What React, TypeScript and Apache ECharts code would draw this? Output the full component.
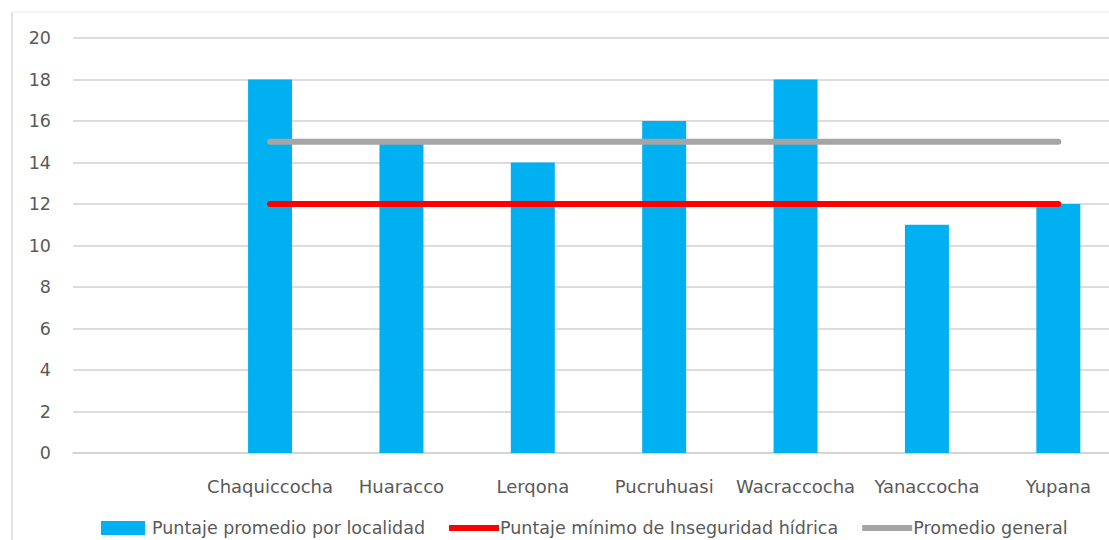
import React, { useEffect, useRef } from "react";
import * as echarts from "echarts";

// Localities (first slot intentionally left blank)
const categories = ["", "Chaquiccocha", "Huaracco", "Lerqona", "Pucruhuasi", "Wacraccocha", "Yanaccocha", "Yupana"];
// Average score per locality
const puntajePromedio = ["-", 18, 15, 14, 16, 18, 11, 12];
// Minimum water-insecurity score
const puntajeMinimo = ["-", 12, 12, 12, 12, 12, 12, 12];
// Overall average
const promedioGeneral = ["-", 15, 15, 15, 15, 15, 15, 15];
const yTicks = { min: 0, max: 20, interval: 2 };

const FONT = "DejaVu Sans";
// legend icons drawn inside a 50x14 box (corner specks keep the box size)
const BOX = "M0,0L0.01,0L0,0.01Z M49.99,14L50,14L50,13.99Z";
const STRIP = "path://" + BOX + " M0,4L50,4L50,10L0,10Z";
const BLOCK = "path://" + BOX + " M0,0L44,0L44,14L0,14Z";

export default function App() {
  const ref = useRef<HTMLDivElement>(null);

  useEffect(() => {
    if (!ref.current) return;
    const chart = echarts.init(ref.current, undefined, { renderer: "svg" });
    chart.setOption({
      animation: false,
      backgroundColor: "#ffffff",
      textStyle: { fontFamily: FONT },
      grid: { left: 73, right: 1, top: 38, bottom: 87, containLabel: false },
      legend: {
        left: 96,
        top: 514,
        itemGap: 24,
        itemWidth: 50,
        itemHeight: 14,
        textStyle: { fontFamily: FONT, fontSize: 17.5, color: "#595959", padding: [0, 0, 0, -4] },
        data: [
          { name: "Puntaje promedio por localidad", icon: BLOCK, itemStyle: { color: "#00b0f0" } },
          { name: "Puntaje mínimo de Inseguridad hídrica", icon: STRIP, itemStyle: { color: "#ff0000" } },
          { name: "Promedio general", icon: STRIP, itemStyle: { color: "#a5a5a5" } },
        ],
      },
      xAxis: {
        type: "category",
        data: categories,
        axisLine: { show: true, lineStyle: { color: "#d0d0d0", width: 1.5 } },
        axisTick: { show: false },
        axisLabel: { margin: 24, fontSize: 18, color: "#595959", fontFamily: FONT, interval: 0 },
      },
      yAxis: {
        type: "value",
        min: yTicks.min,
        max: yTicks.max,
        interval: yTicks.interval,
        axisLine: { show: false },
        axisTick: { show: false },
        axisLabel: { margin: 22, fontSize: 17.5, color: "#595959", fontFamily: FONT },
        splitLine: { lineStyle: { color: "#d0d0d0", width: 1.5 } },
      },
      series: [
        {
          name: "Puntaje promedio por localidad",
          type: "bar",
          data: puntajePromedio,
          barWidth: 44,
          itemStyle: { color: "#00b0f0" },
          z: 2,
        },
        {
          name: "Puntaje mínimo de Inseguridad hídrica",
          type: "line",
          data: puntajeMinimo,
          showSymbol: false,
          clip: false,
          lineStyle: { color: "#ff0000", width: 6, cap: "round" },
          itemStyle: { color: "#ff0000" },
          z: 3,
        },
        {
          name: "Promedio general",
          type: "line",
          data: promedioGeneral,
          showSymbol: false,
          clip: false,
          lineStyle: { color: "#a5a5a5", width: 6, cap: "round" },
          itemStyle: { color: "#a5a5a5" },
          z: 3,
        },
      ],
      graphic: [
        { type: "line", shape: { x1: 12, y1: 12, x2: 12, y2: 540 }, style: { stroke: "#d9d9d9", lineWidth: 1.5 } },
        { type: "line", shape: { x1: 12, y1: 12, x2: 1125, y2: 12 }, style: { stroke: "#f2f2f2", lineWidth: 1.5 } },
      ],
    });
    return () => chart.dispose();
  }, []);

  return (
    <div style={{ position: "fixed", left: 0, top: 0, width: 1109, height: 540, overflow: "hidden", background: "#fff" }}>
      <div ref={ref} style={{ width: 1125, height: 540 }} />
    </div>
  );
}
